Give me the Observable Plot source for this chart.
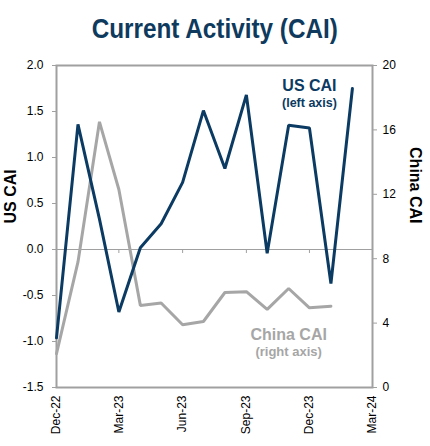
<!DOCTYPE html>
<html>
<head>
<meta charset="utf-8">
<script src="https://cdn.jsdelivr.net/npm/d3@7"></script>
<script src="https://cdn.jsdelivr.net/npm/@observablehq/plot@0.6"></script>
<style>
  html, body { margin: 0; padding: 0; background: #fff; }
  #wrap { width: 430px; height: 446px; overflow: hidden; }
  #title { height: 50px; width: 430px; text-align: center; }
  #title span { display: inline-block; margin-top: 14px; font-family: "Liberation Sans", Arial, sans-serif; font-weight: bold; font-size: 27px; line-height: 30px; color: #0e3a5e; transform: scaleX(0.9); transform-origin: center; white-space: nowrap; }
</style>
</head>
<body>
<div id="wrap">
  <div id="title"><span>Current Activity (CAI)</span></div>
  <div id="chart"></div>
</div>
<script>
// ---- data ----
const months = ["2022-12-01","2023-01-01","2023-02-01","2023-03-01","2023-04-01","2023-05-01","2023-06-01","2023-07-01","2023-08-01","2023-09-01","2023-10-01","2023-11-01","2023-12-01","2024-01-01","2024-02-01"];
const usCAI = [-0.96, 1.36, 0.33, -0.68, 0.02, 0.28, 0.73, 1.51, 0.88, 1.68, -0.04, 1.35, 1.32, -0.37, 1.75];
const chinaCAI = [2.1, 7.8, 16.5, 12.3, 5.1, 5.25, 3.9, 4.1, 5.9, 5.95, 4.85, 6.15, 4.95, 5.05, null];
const xTickLabels = ["2022-12-01","2023-03-01","2023-06-01","2023-09-01","2023-12-01","2024-03-01"];
const leftTicks = [-1.5, -1.0, -0.5, 0.0, 0.5, 1.0, 1.5, 2.0];
const rightTicks = [0, 4, 8, 12, 16, 20];
const leftDomain = [-1.5, 2.0];
const rightDomain = [0, 20];
const annotations = [
  {text: "US CAI", date: "2023-12-01", value: 1.78, axis: "left", size: 16},
  {text: "(left axis)", date: "2023-12-01", value: 1.59, axis: "left", size: 12.5},
  {text: "China CAI", date: "2023-11-01", value: 3.25, axis: "right", size: 16},
  {text: "(right axis)", date: "2023-11-01", value: 2.2, axis: "right", size: 13}
];

// ---- helpers ----
const parse = d3.utcParse("%Y-%m-%d");
const toLeft = v => leftDomain[0] + (v - rightDomain[0]) * (leftDomain[1] - leftDomain[0]) / (rightDomain[1] - rightDomain[0]);
const toRight = v => rightDomain[0] + (v - leftDomain[0]) * (rightDomain[1] - rightDomain[0]) / (leftDomain[1] - leftDomain[0]);

const usData = months.map((m, i) => ({date: parse(m), value: usCAI[i]}));
const chinaData = months.map((m, i) => ({date: parse(m), value: chinaCAI[i]})).filter(d => d.value != null);
const xTicks = xTickLabels.map(parse);
const ann = annotations.map(a => ({...a, d: parse(a.date), y: a.axis === "left" ? a.value : toLeft(a.value)}));

const navy = "#0b3a62";
const gray = "#a6a6a6";
const axisGray = "#a0a0a0";
const font = "'Liberation Sans', Arial, sans-serif";

const chart = Plot.plot({
  width: 430,
  height: 396,
  marginTop: 15,
  marginBottom: 59,
  marginLeft: 56,
  marginRight: 58,
  style: {fontFamily: font, fontSize: "12px", color: "#000", background: "#fff"},
  x: {type: "utc", domain: [xTicks[0], xTicks[xTicks.length - 1]]},
  y: {domain: leftDomain},
  marks: [
    Plot.frame({stroke: axisGray, strokeWidth: 2}),
    Plot.ruleY([0], {stroke: axisGray, strokeWidth: 1.2}),
    Plot.ruleX(xTicks.slice(1, -1), {x: d => d, y1: 0, y2: 0, insetBottom: -4, stroke: axisGray, strokeWidth: 1}),
    Plot.axisY({anchor: "left", ticks: leftTicks, tickFormat: d => d.toFixed(1), tickSize: 4, tickPadding: 9, stroke: axisGray, fill: "#000", fontSize: 12, label: null}),
    Plot.axisY({anchor: "right", ticks: rightTicks.map(toLeft), tickFormat: d => String(Math.round(toRight(d))), tickSize: 4, tickPadding: 6, stroke: axisGray, fill: "#000", fontSize: 12, label: null}),
    Plot.axisX({ticks: xTicks, tickFormat: d3.utcFormat("%b-%y"), tickSize: 0, tickPadding: 8, tickRotate: -90, fill: "#000", fontSize: 12, label: null}),
    Plot.text(["US CAI"], {frameAnchor: "left", dx: -46, dy: -3, rotate: -90, fontWeight: "bold", fontSize: 16, fill: "#000"}),
    Plot.text(["China CAI"], {frameAnchor: "right", dx: 43, dy: -3, rotate: 90, fontWeight: "bold", fontSize: 16, fill: "#000"}),
    Plot.line(chinaData, {x: "date", y: d => toLeft(d.value), stroke: gray, strokeWidth: 3, strokeLinejoin: "miter"}),
    Plot.line(usData, {x: "date", y: "value", stroke: navy, strokeWidth: 3, strokeLinejoin: "miter"}),
    Plot.text(ann, {x: "d", y: "y", text: "text", fontSize: d => d.size, fontWeight: "bold", fill: d => d.axis === "left" ? navy : gray})
  ]
});
document.getElementById("chart").appendChild(chart);
</script>
</body>
</html>
